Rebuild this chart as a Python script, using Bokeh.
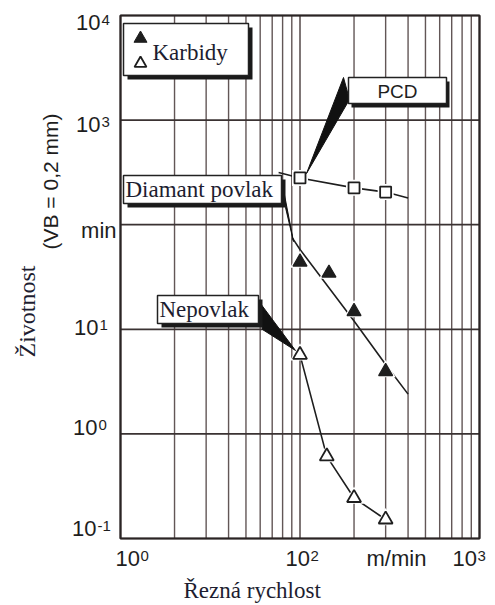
import math
from bokeh.plotting import figure
from bokeh.models import Range1d, Label
from bokeh.embed import file_html
from bokeh.resources import INLINE

# ---------------- data ----------------
pcd_speed = [100, 200, 300]
pcd_life = [280, 225, 205]
pcd_line_speed = [76, 100, 200, 300, 400]
pcd_line_life = [315, 280, 225, 205, 180]

dia_speed = [100, 145, 200, 300]
dia_life = [44, 34.5, 14.8, 3.95]
dia_line_speed = [91, 100, 200, 300, 400]
dia_line_life = [74, 58, 12, 4.6, 2.4]

nep_speed = [100, 141, 200, 300]
nep_life = [5.7, 0.61, 0.244, 0.152]

x_major = [10, 100, 1000]
x_minor = [20, 30, 40, 50, 60, 70, 80, 90, 200, 300, 400, 500, 600, 700, 800, 900]
y_major = [0.1, 1, 10, 100, 1000, 10000]

x_tick_labels = [("10", "0"), ("10", "2"), ("10", "3")]
y_tick_labels = [("10", "-1"), ("10", "0"), ("10", "1"), ("min", ""), ("10", "3"), ("10", "4")]

SANS = "Liberation Sans"
SERIF = "Liberation Serif"
INK = "#1e1e1e"
SERIF_INK = "#1d1d30"

# ------- layout helpers: picture pixel position -> data position -------
W, H = 495, 605


def fx(px):
    return 10 ** (1 + (px - 120) / 179.5)


def fy(py):
    return 10 ** (4 - (py - 15) / 104.6)


p = figure(width=W, height=H, x_axis_type="log", y_axis_type="log",
           x_range=Range1d(fx(0), fx(W)), y_range=Range1d(fy(H), fy(0)),
           x_axis_location=None, y_axis_location=None,
           output_backend="svg", toolbar_location=None,
           min_border=0)
p.grid.visible = False
p.outline_line_color = None
p.background_fill_color = "white"
p.border_fill_color = "white"

x_lo, x_hi = x_major[0], x_major[-1]
y_lo, y_hi = y_major[0], y_major[-1]

# --------------- grid (from the tick arrays) ---------------
vx = x_minor
p.segment(x0=vx, x1=vx, y0=[y_lo] * len(vx), y1=[y_hi] * len(vx),
          line_color="#625656", line_width=1.4)
p.segment(x0=x_major, x1=x_major, y0=[y_lo] * len(x_major), y1=[y_hi] * len(x_major),
          line_color="#554949", line_width=1.5)
p.segment(x0=[x_lo] * len(y_major), x1=[x_hi] * len(y_major), y0=y_major, y1=y_major,
          line_color="#3a3232", line_width=1.7)
p.quad(left=[x_lo], right=[x_hi], bottom=[y_lo], top=[y_hi],
       fill_color=None, line_color="#2a2424", line_width=2.2)

# --------------- series ---------------
p.line(pcd_line_speed, pcd_line_life, line_color=INK, line_width=1.6)
p.line(dia_line_speed, dia_line_life, line_color=INK, line_width=1.6)
p.line(nep_speed, nep_life, line_color=INK, line_width=1.6)

# white halos so the lines break around the markers
p.scatter(pcd_speed, pcd_life, marker="square", size=16, fill_color="white", line_color=None)
p.scatter(dia_speed, dia_life, marker="triangle", size=20, fill_color="white", line_color=None)
p.scatter(nep_speed, nep_life, marker="triangle", size=20, fill_color="white", line_color=None)

p.scatter(pcd_speed, pcd_life, marker="square", size=11, fill_color="white",
          line_color=INK, line_width=1.8)
p.scatter(dia_speed, dia_life, marker="triangle", size=14, fill_color=INK,
          line_color=INK, line_width=1.2)
p.scatter(nep_speed, nep_life, marker="triangle", size=14, fill_color="white",
          line_color=INK, line_width=1.8)


# --------------- callout boxes ---------------
def callout(l, t, r, b, dx=4, dy=4):
    p.quad(left=fx(l + dx), right=fx(r + dx), top=fy(t + dy), bottom=fy(b + dy),
           fill_color="#1a1a1a", line_color=None)
    p.quad(left=fx(l), right=fx(r), top=fy(t), bottom=fy(b),
           fill_color="white", line_color="#222222", line_width=1.5)


def pointer(pts):
    p.patch([fx(a) for a, _ in pts], [fy(b) for _, b in pts],
            fill_color="#111111", line_color="#111111", line_width=1)


pointer([(306, 173), (343, 77), (349, 99)])
pointer([(281, 179), (285, 207), (293, 241)])
pointer([(257, 299), (262, 329), (295, 350)])

callout(123, 23, 248, 75)
callout(348, 77, 446, 103, dx=3)
callout(123, 175, 281, 203)
callout(157, 295, 258, 323)

# legend swatches
p.scatter([fx(140)], [fy(38)], marker="triangle", size=13, fill_color=INK, line_color=INK)
p.scatter([fx(140)], [fy(63)], marker="triangle", size=12, fill_color="white",
          line_color=INK, line_width=1.8)


def label(px, py, text, font, size, color, align="left", angle=0.0):
    # py is the vertical middle of the text in the picture
    p.add_layout(Label(x=fx(px), y=fy(py), text=text, text_font=font,
                       text_font_size=size, text_color=color, text_align=align,
                       text_baseline="middle", angle=angle))


label(152, 52, "Karbidy", SERIF, "23px", SERIF_INK)
label(125, 189, "Diamant povlak", SERIF, "23px", SERIF_INK)
label(159, 309, "Nepovlak", SERIF, "23px", SERIF_INK)
label(397, 90.5, "PCD", SANS, "19px", INK, align="center")

# --------------- tick labels ---------------
x_label_left = [115, 285, 452]
for (base, exp), lx in zip(x_tick_labels, x_label_left):
    label(lx, 557.5, base, SANS, "22px", INK)
    label(lx + 25, 555, exp, SANS, "15px", INK)
label(366, 557.5, "m/min", SANS, "22px", INK)

y_label_cy = [527.5, 426.5, 326.5, 229.5, 123.5, 21.5]
y_label_right = [96, 97, 98, 116, 100, 100]
for (base, exp), cy, rx in zip(y_tick_labels, y_label_cy, y_label_right):
    label(rx, cy, base, SANS, "22px", INK, align="right")
    if exp:
        label(rx + 1, cy - 2.5, exp, SANS, "15px", INK)

# --------------- axis titles ---------------
label(183, 590, "Řezná rychlost", SERIF, "23px", SERIF_INK)
label(26, 311, "Životnost", SERIF, "24px", SERIF_INK, align="center", angle=math.pi / 2)
label(50, 181, "(VB = 0,2 mm)", SANS, "21px", INK, align="center", angle=math.pi / 2)

open("out.html", "w").write(file_html(p, INLINE))
